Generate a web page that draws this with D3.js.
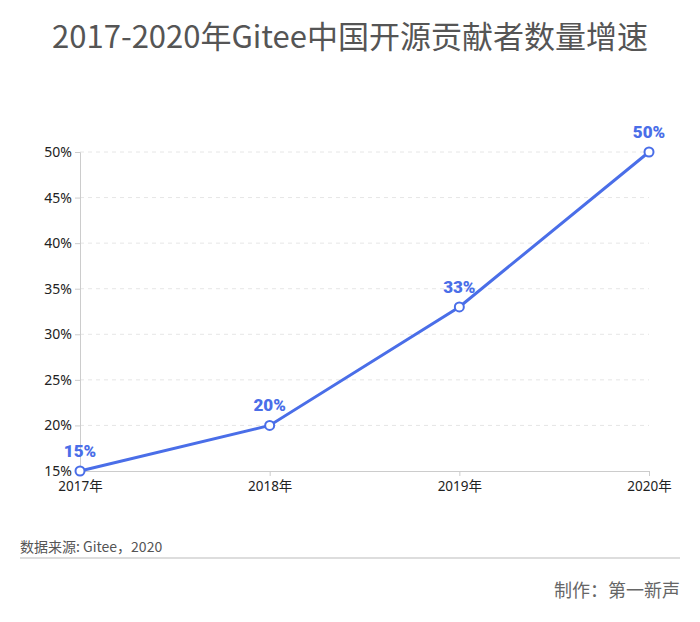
<!DOCTYPE html>
<html><head><meta charset="utf-8">
<script src="https://cdn.jsdelivr.net/npm/d3@7"></script>
<style>body{margin:0;background:#fff;}svg{display:block;font-family:"Noto Sans CJK SC","Noto Sans",sans-serif;}</style>
</head><body>
<svg id="c" width="700" height="622"></svg>
<script>
const years = ["2017年","2018年","2019年","2020年"];
const growth = [15, 20, 33, 50];
const yTicks = [15,20,25,30,35,40,45,50];

const svg = d3.select("#c");
const color = "#4a6ee8";
const x = d3.scalePoint().domain(years).range([80, 649]);
const y = d3.scaleLinear().domain([15, 50]).range([471, 152]);

svg.append("text").attr("x",350).attr("y",48).attr("text-anchor","middle")
  .attr("font-size",31).attr("fill","#555").text("2017-2020年Gitee中国开源贡献者数量增速");

// grid
svg.append("g").selectAll("line").data(yTicks.filter(d=>d>15)).join("line")
  .attr("x1",80).attr("x2",649).attr("y1",d=>y(d)).attr("y2",d=>y(d))
  .attr("stroke","#e6e6e6").attr("stroke-dasharray","4,4");

const ya = svg.append("g").attr("transform","translate(80,0)")
  .call(d3.axisLeft(y).tickValues(yTicks).tickFormat(d=>d+"%").tickSize(5).tickPadding(3));
ya.select(".domain").attr("stroke","#ccc");
ya.selectAll(".tick line").attr("stroke","#ccc");
ya.selectAll("text").attr("font-size",14).attr("fill","#222").attr("font-family","'Noto Sans','Noto Sans CJK SC',sans-serif");

const xa = svg.append("g").attr("transform","translate(0,471)")
  .call(d3.axisBottom(x).tickSize(5).tickPadding(5));
xa.select(".domain").attr("stroke","#ccc");
xa.selectAll(".tick line").attr("stroke","#ccc");
xa.selectAll("text").attr("font-size",13.5).attr("fill","#222").attr("font-family","'Noto Sans','Noto Sans CJK SC',sans-serif");

svg.append("path").datum(growth).attr("fill","none").attr("stroke",color).attr("stroke-width",3)
  .attr("d", d3.line().x((d,i)=>x(years[i])).y(d=>y(d)));

svg.append("g").selectAll("circle").data(growth).join("circle")
  .attr("cx",(d,i)=>x(years[i])).attr("cy",d=>y(d)).attr("r",4.5)
  .attr("fill","#fff").attr("stroke",color).attr("stroke-width",2);

svg.append("g").selectAll("text").data(growth).join("text")
  .attr("x",(d,i)=>x(years[i])).attr("y",d=>y(d)-14).attr("text-anchor","middle")
  .attr("font-size",17).attr("font-weight",900).attr("fill",color)
  .attr("font-family","Roboto,sans-serif").text(d=>d+"%");

svg.append("text").attr("x",20).attr("y",552).attr("font-size",14).attr("fill","#555")
  .text("数据来源: Gitee，2020");
svg.append("line").attr("x1",20).attr("x2",680).attr("y1",558).attr("y2",558)
  .attr("stroke","#ddd").attr("stroke-width",2);
svg.append("text").attr("x",680).attr("y",597).attr("text-anchor","end").attr("font-size",18).attr("fill","#666")
  .text("制作：第一新声");
</script>
</body></html>
